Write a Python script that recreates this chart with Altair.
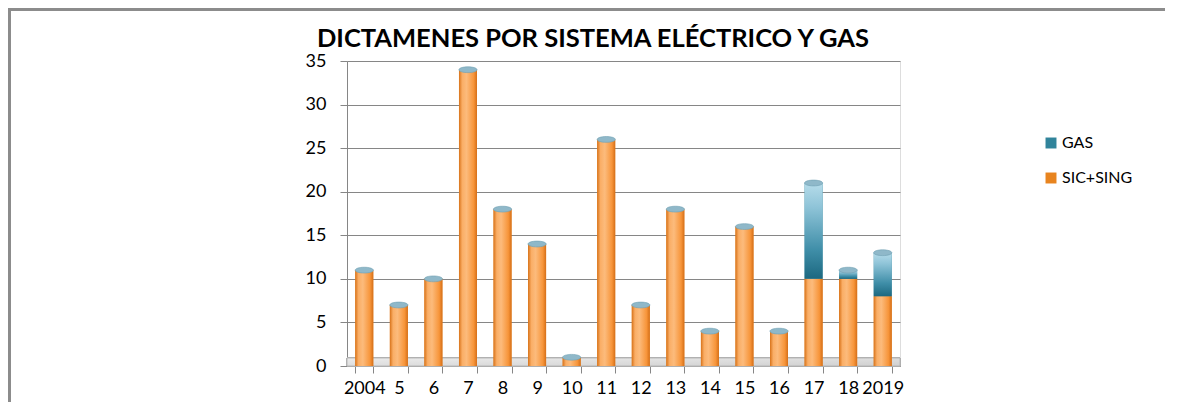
import altair as alt
import pandas as pd

title_text = "DICTAMENES POR SISTEMA ELÉCTRICO Y GAS"
categories = ["2004", "5", "6", "7", "8", "9", "10", "11", "12", "13", "14", "15", "16", "17", "18", "2019"]
sic_sing = [11, 7, 10, 34, 18, 14, 1, 26, 7, 18, 4, 16, 4, 10, 10, 8]
gas = [0, 0, 0, 0, 0, 0, 0, 0, 0, 0, 0, 0, 0, 11, 1, 5]
series = ["GAS", "SIC+SING"]
y_ticks = [0, 5, 10, 15, 20, 25, 30, 35]

rows = []
for c, s, g in zip(categories, sic_sing, gas):
    rows.append({"cat": c, "serie": "SIC+SING", "start": 0, "end": s})
    if g > 0:
        rows.append({"cat": c, "serie": "GAS", "start": s, "end": s + g})
df = pd.DataFrame(rows)
tops = pd.DataFrame({"cat": categories, "total": [s + g for s, g in zip(sic_sing, gas)]})
title_df = pd.DataFrame({"t": [title_text]})

W, H = 553, 305
FONT = "Lato"

x_enc = alt.X("cat:N", sort=categories, title=None,
              scale=alt.Scale(paddingInner=0.48, paddingOuter=0.24),
              axis=alt.Axis(labelAngle=0, labelFontSize=18, labelFont=FONT, labelColor="#000000",
                            domainColor="#868686", tickColor="#868686", tickSize=7,
                            tickBand="extent", labelPadding=6, grid=False))
y_scale = alt.Scale(domain=[0, 35], nice=False)
y_axis = alt.Axis(values=y_ticks, labelFontSize=18, labelFont=FONT, labelColor="#000000",
                  domainColor="#868686", tickColor="#868686", tickSize=7, labelPadding=14,
                  gridColor="#868686", gridWidth=1, title=None)

frame = alt.Chart(tops).mark_rect(fill=None, stroke="#8c8c8c", strokeWidth=2.5).encode(
    x=alt.value(-338), x2=alt.value(W + 400), y=alt.value(-52), y2=alt.value(H + 200)
)

title = alt.Chart(title_df).mark_text(font=FONT, fontSize=25.5, fontWeight="bold", color="#000000",
                                      align="center", baseline="alphabetic").encode(
    text="t:N", x=alt.value(246), y=alt.value(-14))

floor = alt.Chart(tops).mark_rect(
    color=alt.Gradient(gradient="linear", x1=0, y1=0, x2=1, y2=1,
                       stops=[alt.GradientStop(color="#ebebeb", offset=0),
                              alt.GradientStop(color="#d0d0d0", offset=1)]),
    stroke="#b0b0b0", strokeWidth=0.8
).encode(x=alt.value(0), x2=alt.value(W), y=alt.value(H - 8), y2=alt.value(H))

flat = alt.Chart(df).mark_bar().encode(
    x=x_enc,
    y=alt.Y("start:Q", scale=y_scale, axis=y_axis),
    y2="end:Q",
    color=alt.Color("serie:N", scale=alt.Scale(domain=series, range=["#31849B", "#E8841F"]),
                    legend=alt.Legend(title=None, orient="none", legendX=696, legendY=74,
                                      symbolType="square", symbolSize=120, symbolStrokeWidth=0,
                                      labelFontSize=16, labelFont=FONT, labelColor="#000000",
                                      rowPadding=19, labelOffset=3)),
)

orange_grad = alt.Gradient(gradient="linear", x1=0, y1=0, x2=1, y2=0, stops=[
    alt.GradientStop(color="#D8731A", offset=0),
    alt.GradientStop(color="#FAAE66", offset=0.18),
    alt.GradientStop(color="#FCBB7C", offset=0.42),
    alt.GradientStop(color="#F7953A", offset=0.82),
    alt.GradientStop(color="#D56F18", offset=1),
])
gas_grad = alt.Gradient(gradient="linear", x1=0, y1=1, x2=0, y2=0, stops=[
    alt.GradientStop(color="#1C6880", offset=0),
    alt.GradientStop(color="#3F8EA8", offset=0.3),
    alt.GradientStop(color="#8FC4D8", offset=0.75),
    alt.GradientStop(color="#B6DCEA", offset=1),
])

sic_layer = alt.Chart(df).transform_filter(alt.datum.serie == "SIC+SING").mark_bar(color=orange_grad).encode(
    x=alt.X("cat:N", sort=categories), y=alt.Y("start:Q", scale=y_scale), y2="end:Q")
gas_layer = alt.Chart(df).transform_filter(alt.datum.serie == "GAS").mark_bar(color=gas_grad).encode(
    x=alt.X("cat:N", sort=categories), y=alt.Y("start:Q", scale=y_scale), y2="end:Q")

ellipse = "M -1 0 A 1 0.32 0 1 0 1 0 A 1 0.32 0 1 0 -1 0 Z"
caps = alt.Chart(tops).mark_point(shape=ellipse, filled=True, size=330, color="#8FB8C9", opacity=1,
                                  stroke="#6f9fb2", strokeWidth=0.6).encode(
    x=alt.X("cat:N", sort=categories), y=alt.Y("total:Q", scale=y_scale))

chart = alt.layer(frame, title, floor, flat, sic_layer, gas_layer, caps).properties(
    width=W, height=H,
    autosize=alt.AutoSizeParams(type="none"),
    padding={"left": 339, "top": 53, "right": 265, "bottom": 36},
).configure_view(stroke=None).configure(background="#ffffff")

chart.save("out.html", embed_options={"renderer": "svg", "actions": False})
